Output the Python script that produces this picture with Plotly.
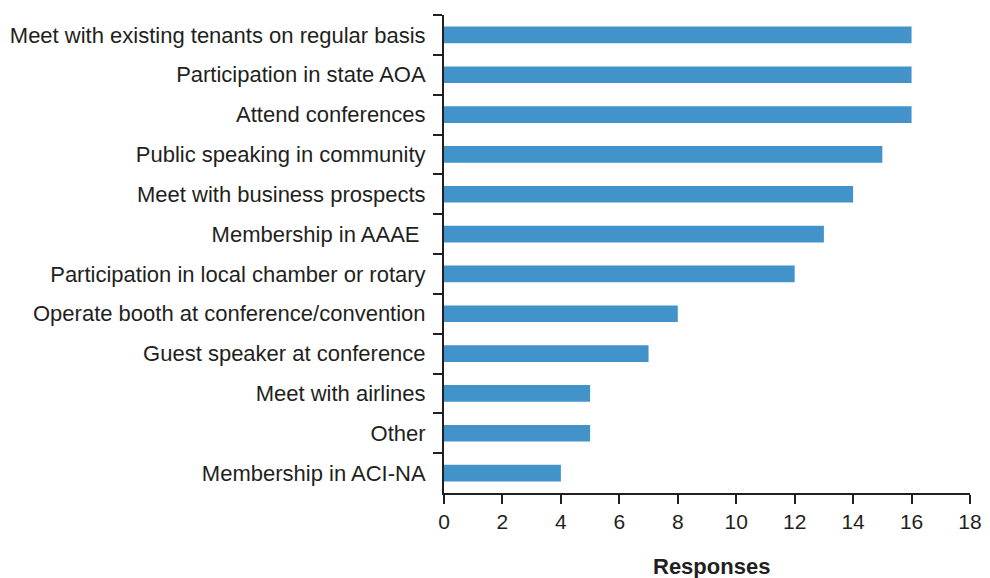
import plotly.graph_objects as go

categories = [
    "Meet with existing tenants on regular basis",
    "Participation in state AOA",
    "Attend conferences",
    "Public speaking in community",
    "Meet with business prospects",
    "Membership in AAAE ",
    "Participation in local chamber or rotary",
    "Operate booth at conference/convention",
    "Guest speaker at conference",
    "Meet with airlines",
    "Other",
    "Membership in ACI-NA",
]
values = [16, 16, 16, 15, 14, 13, 12, 8, 7, 5, 5, 4]
x_ticks = [0, 2, 4, 6, 8, 10, 12, 14, 16, 18]
x_title = "Responses"

fig = go.Figure(go.Bar(
    x=values, y=categories, orientation="h",
    marker=dict(color="#4393CB", line=dict(width=0)),
    width=0.42,
))

axis_color = "#231F20"
fig.update_layout(
    width=974, height=570,
    margin=dict(l=436, r=12, t=7, b=85),
    plot_bgcolor="white", paper_bgcolor="white",
    font=dict(family="Liberation Sans, Arial, sans-serif", size=22, color="#231F20"),
    showlegend=False,
    xaxis=dict(
        range=[0, 18], tickvals=x_ticks, showgrid=False, zeroline=False,
        showline=True, linecolor=axis_color, linewidth=2,
        ticks="outside", ticklen=9, tickwidth=2, tickcolor=axis_color,
        tickfont=dict(size=21), automargin=False, ticklabeloverflow="allow",
    ),
    yaxis=dict(
        autorange="reversed", showgrid=False, zeroline=False,
        showline=True, linecolor=axis_color, linewidth=2,
        ticks="outside", ticklen=9, tickwidth=2, tickcolor=axis_color,
        tickson="boundaries", tickfont=dict(size=22), automargin=False,
        ticklabelstandoff=12,
    ),
    annotations=[dict(
        text=f"<b>{x_title}</b>", xref="paper", yref="paper",
        x=0.5, y=0, xshift=4, yshift=-73, xanchor="center", yanchor="middle",
        showarrow=False, font=dict(size=22, color="#231F20"),
    )],
)

fig.write_html("out.html")
